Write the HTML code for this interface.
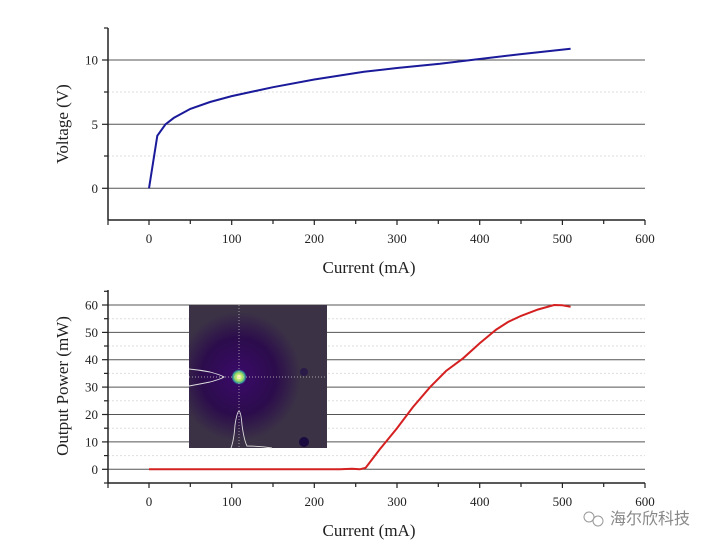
<!DOCTYPE html>
<html><head><meta charset="utf-8"><style>
html,body{margin:0;padding:0;background:#fff;}
svg{display:block;font-family:"Liberation Serif",serif;}
</style></head><body>
<svg width="716" height="548" viewBox="0 0 716 548" xmlns="http://www.w3.org/2000/svg">
<defs>
<radialGradient id="g" cx="0.36" cy="0.5" r="0.45">
<stop offset="0" stop-color="#3a0a6a"/>
<stop offset="0.6" stop-color="#2c0c4c"/>
<stop offset="1" stop-color="#3b3246"/>
</radialGradient>
<radialGradient id="s" cx="0.5" cy="0.5" r="0.5">
<stop offset="0" stop-color="#fff8a0"/>
<stop offset="0.5" stop-color="#a0e060"/>
<stop offset="0.8" stop-color="#3090a0"/>
<stop offset="1" stop-color="#3a0a6a" stop-opacity="0"/>
</radialGradient>
</defs>
<!-- TOP CHART -->
<g stroke="#555" stroke-width="1">
<line x1="108" y1="60" x2="645" y2="60"/>
<line x1="108" y1="124.3" x2="645" y2="124.3"/>
<line x1="108" y1="188.3" x2="645" y2="188.3"/>
</g>
<g stroke="#ddd" stroke-width="1" stroke-dasharray="2,2">
<line x1="108" y1="92" x2="645" y2="92"/>
<line x1="108" y1="156" x2="645" y2="156"/>
</g>
<g stroke="#222" stroke-width="1.5" fill="none">
<line x1="108" y1="28" x2="108" y2="220"/>
<line x1="108" y1="220" x2="645" y2="220"/>
</g>
<g stroke="#222" stroke-width="1.2">
<line x1="102" y1="60" x2="108" y2="60"/><line x1="102" y1="124.3" x2="108" y2="124.3"/><line x1="102" y1="188.3" x2="108" y2="188.3"/>
<line x1="104" y1="28" x2="108" y2="28"/><line x1="104" y1="92" x2="108" y2="92"/><line x1="104" y1="156" x2="108" y2="156"/>
<line x1="108" y1="220" x2="108" y2="225"/><line x1="149" y1="220" x2="149" y2="225"/><line x1="190.3" y1="220" x2="190.3" y2="224"/><line x1="231.7" y1="220" x2="231.7" y2="225"/><line x1="273" y1="220" x2="273" y2="224"/><line x1="314.3" y1="220" x2="314.3" y2="225"/><line x1="355.7" y1="220" x2="355.7" y2="224"/><line x1="397" y1="220" x2="397" y2="225"/><line x1="438.3" y1="220" x2="438.3" y2="224"/><line x1="479.7" y1="220" x2="479.7" y2="225"/><line x1="521" y1="220" x2="521" y2="224"/><line x1="562.4" y1="220" x2="562.4" y2="225"/><line x1="603.7" y1="220" x2="603.7" y2="224"/><line x1="645" y1="220" x2="645" y2="225"/>
</g>
<g font-size="13" fill="#222" text-anchor="end">
<text x="98" y="64.5">10</text><text x="98" y="128.8">5</text><text x="98" y="192.8">0</text>
</g>
<g font-size="13" fill="#222" text-anchor="middle">
<text x="149" y="243">0</text><text x="231.7" y="243">100</text><text x="314.3" y="243">200</text><text x="397" y="243">300</text><text x="479.7" y="243">400</text><text x="562.4" y="243">500</text><text x="645" y="243">600</text>
</g>
<text x="369" y="273" font-size="17" text-anchor="middle" fill="#222">Current (mA)</text>
<text transform="translate(68,124) rotate(-90)" font-size="17" text-anchor="middle" fill="#222">Voltage (V)</text>
<polyline fill="none" stroke="#1a1a9a" stroke-width="2" points="149,188.3 157.3,135.8 165.5,124.3 173.8,117.9 190.3,108.9 210,102 231.7,96.1 273,87.2 314.3,79.5 364,71.8 397,68 440,63.8 479.7,59 520,54.2 570.6,48.8"/>

<!-- BOTTOM CHART -->
<g stroke="#555" stroke-width="1">
<line x1="108" y1="305" x2="645" y2="305"/><line x1="108" y1="332.4" x2="645" y2="332.4"/><line x1="108" y1="359.7" x2="645" y2="359.7"/><line x1="108" y1="387.1" x2="645" y2="387.1"/><line x1="108" y1="414.5" x2="645" y2="414.5"/><line x1="108" y1="441.9" x2="645" y2="441.9"/><line x1="108" y1="469.3" x2="645" y2="469.3"/>
</g>
<g stroke="#ddd" stroke-width="1" stroke-dasharray="2,2">
<line x1="108" y1="318.7" x2="645" y2="318.7"/><line x1="108" y1="346" x2="645" y2="346"/><line x1="108" y1="373.4" x2="645" y2="373.4"/><line x1="108" y1="400.8" x2="645" y2="400.8"/><line x1="108" y1="428.2" x2="645" y2="428.2"/><line x1="108" y1="455.6" x2="645" y2="455.6"/>
</g>
<g stroke="#222" stroke-width="1.5" fill="none">
<line x1="108" y1="290" x2="108" y2="483"/>
<line x1="108" y1="483" x2="645" y2="483"/>
</g>
<g stroke="#222" stroke-width="1.2">
<line x1="102" y1="305" x2="108" y2="305"/><line x1="102" y1="332.4" x2="108" y2="332.4"/><line x1="102" y1="359.7" x2="108" y2="359.7"/><line x1="102" y1="387.1" x2="108" y2="387.1"/><line x1="102" y1="414.5" x2="108" y2="414.5"/><line x1="102" y1="441.9" x2="108" y2="441.9"/><line x1="102" y1="469.3" x2="108" y2="469.3"/>
<line x1="104" y1="318.7" x2="108" y2="318.7"/><line x1="104" y1="346" x2="108" y2="346"/><line x1="104" y1="373.4" x2="108" y2="373.4"/><line x1="104" y1="400.8" x2="108" y2="400.8"/><line x1="104" y1="428.2" x2="108" y2="428.2"/><line x1="104" y1="455.6" x2="108" y2="455.6"/><line x1="104" y1="291.3" x2="108" y2="291.3"/><line x1="104" y1="483" x2="108" y2="483"/>
<line x1="108" y1="483" x2="108" y2="488"/><line x1="149" y1="483" x2="149" y2="488"/><line x1="190.3" y1="483" x2="190.3" y2="487"/><line x1="231.7" y1="483" x2="231.7" y2="488"/><line x1="273" y1="483" x2="273" y2="487"/><line x1="314.3" y1="483" x2="314.3" y2="488"/><line x1="355.7" y1="483" x2="355.7" y2="487"/><line x1="397" y1="483" x2="397" y2="488"/><line x1="438.3" y1="483" x2="438.3" y2="487"/><line x1="479.7" y1="483" x2="479.7" y2="488"/><line x1="521" y1="483" x2="521" y2="487"/><line x1="562.4" y1="483" x2="562.4" y2="488"/><line x1="603.7" y1="483" x2="603.7" y2="487"/><line x1="645" y1="483" x2="645" y2="488"/>
</g>
<g font-size="13" fill="#222" text-anchor="end">
<text x="98" y="309.5">60</text><text x="98" y="336.9">50</text><text x="98" y="364.2">40</text><text x="98" y="391.6">30</text><text x="98" y="419">20</text><text x="98" y="446.4">10</text><text x="98" y="473.8">0</text>
</g>
<g font-size="13" fill="#222" text-anchor="middle">
<text x="149" y="506">0</text><text x="231.7" y="506">100</text><text x="314.3" y="506">200</text><text x="397" y="506">300</text><text x="479.7" y="506">400</text><text x="562.4" y="506">500</text><text x="645" y="506">600</text>
</g>
<text x="369" y="536" font-size="17" text-anchor="middle" fill="#222">Current (mA)</text>
<text transform="translate(68,386) rotate(-90)" font-size="17" text-anchor="middle" fill="#222">Output Power (mW)</text>

<!-- inset -->
<rect x="189" y="305" width="138" height="143" fill="#3d3548"/>
<rect x="189" y="305" width="138" height="143" fill="url(#g)"/>
<circle cx="239" cy="377" r="8" fill="url(#s)"/>
<circle cx="239" cy="377" r="2" fill="#fff8b0"/>
<circle cx="304" cy="442" r="5" fill="#1a0a40"/>
<circle cx="304" cy="372" r="4" fill="#2a1a48"/>
<g stroke="#ccc" stroke-width="0.7" stroke-dasharray="1,2" fill="none">
<line x1="189" y1="377" x2="327" y2="377"/><line x1="239" y1="305" x2="239" y2="448"/>
</g>
<g stroke="#ddd" stroke-width="0.9" fill="none">
<path d="M189,369 Q200,370 210,372 Q221,375 224,377 Q221,379 210,382 Q200,384 189,386"/>
<path d="M231,448 Q234,440 235,425 Q237,412 239,411 Q241,412 242,425 Q244,440 247,446 Q260,446 272,448"/>
</g>

<polyline fill="none" stroke="#d42020" stroke-width="2" points="149,469.3 340,469.3 352,468.8 359.8,469.3 365.6,467.9 380,449 397,428.2 413,407 430.1,387.1 446,371 463.1,358.3 480,343 496.2,329.6 508,322 521,315.9 538,309.5 554.1,305 562.4,305.3 570.6,306.8"/>

<!-- watermark -->
<g fill="none" stroke="#999" stroke-width="1">
<circle cx="589" cy="517" r="5"/><circle cx="598" cy="521" r="5"/>
</g>
<text x="610" y="524" font-size="16" fill="#888" font-family="'Liberation Sans','Noto Sans CJK SC',sans-serif">海尔欣科技</text>
</svg>
</body></html>
